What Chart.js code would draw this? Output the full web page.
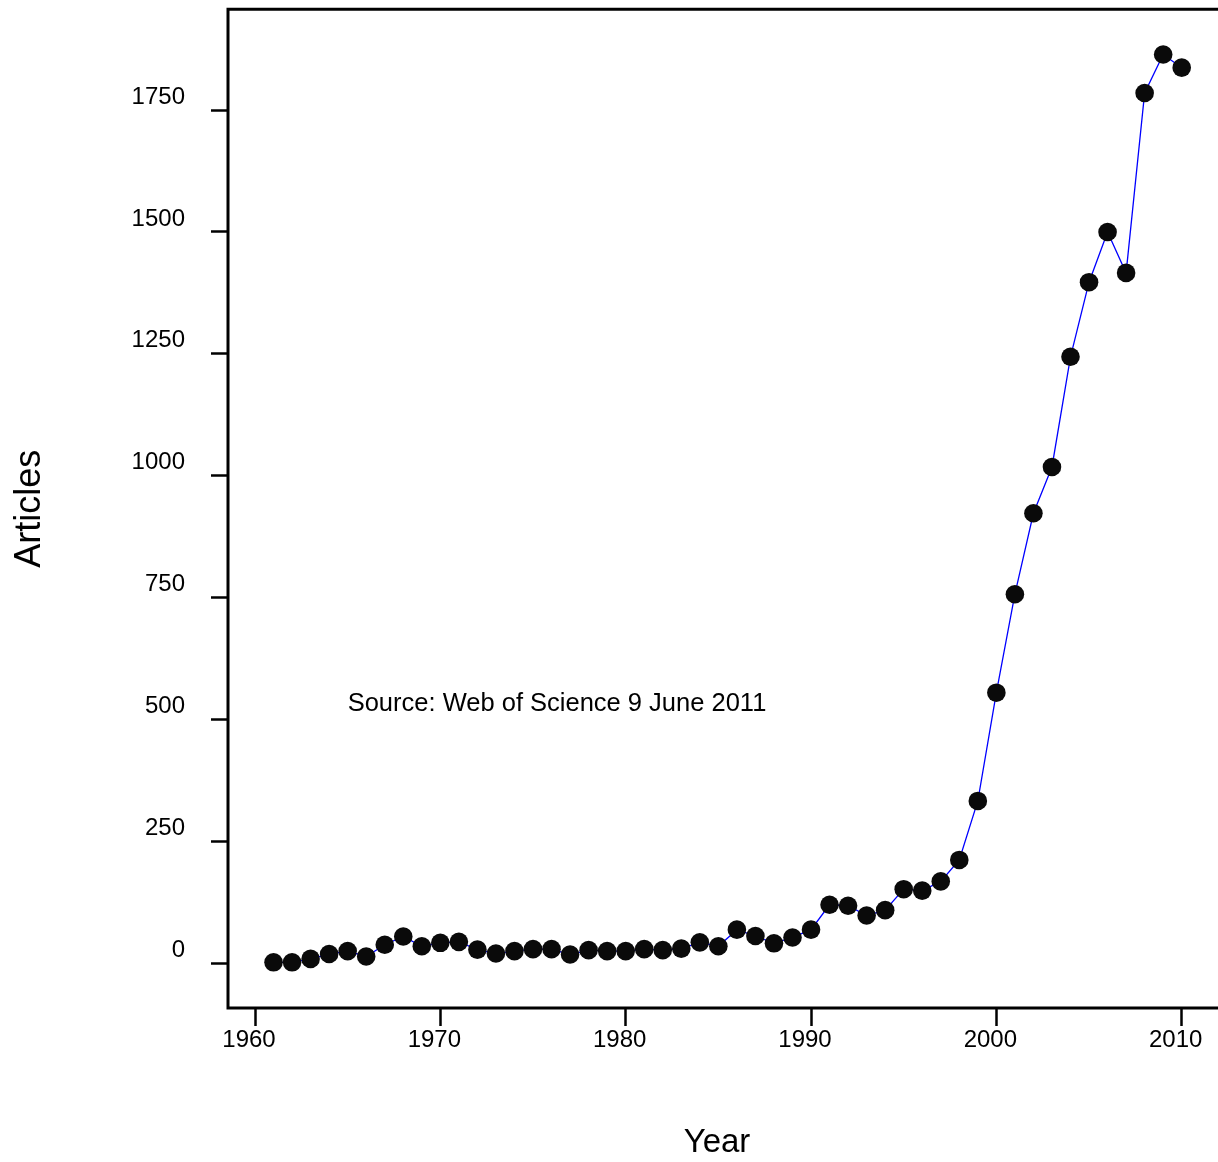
<!DOCTYPE html>
<html>
<head>
<meta charset="utf-8">
<script src="https://cdn.jsdelivr.net/npm/chart.js@4.4.1/dist/chart.umd.min.js"></script>
<style>
  body { margin: 0; background: #fff; overflow: hidden; }
</style>
</head>
<body>
<canvas id="articlesChart" width="1218" height="1162"></canvas>
<script>
// articles per year
const years = [1961, 1962, 1963, 1964, 1965, 1966, 1967, 1968, 1969, 1970,
               1971, 1972, 1973, 1974, 1975, 1976, 1977, 1978, 1979, 1980,
               1981, 1982, 1983, 1984, 1985, 1986, 1987, 1988, 1989, 1990,
               1991, 1992, 1993, 1994, 1995, 1996, 1997, 1998, 1999, 2000,
               2001, 2002, 2003, 2004, 2005, 2006, 2007, 2008, 2009, 2010];
const articles = [2, 2, 9, 19, 25, 14, 38, 55, 35, 42,
                  44, 28, 20, 25, 29, 29, 18, 27, 25, 25,
                  29, 27, 30, 43, 35, 69, 56, 41, 53, 69,
                  120, 118, 98, 109, 152, 149, 168, 212, 333, 555,
                  757, 923, 1018, 1244, 1397, 1500, 1416, 1785, 1864, 1837];
const xTicks = [1960, 1970, 1980, 1990, 2000, 2010];
const yTicks = [0, 250, 500, 750, 1000, 1250, 1500, 1750];
const sourceNote = 'Source: Web of Science 9 June 2011';

const fontFamily = '"Liberation Sans", Arial, Helvetica, sans-serif';

// frame: left, top and bottom edges (right edge is off the picture)
const framePlugin = {
    id: 'frame',
    beforeDatasetsDraw(chart) {
        const { ctx, chartArea } = chart;
        ctx.save();
        ctx.strokeStyle = '#000';
        ctx.lineWidth = 3;
        ctx.lineCap = 'square';
        ctx.beginPath();
        ctx.moveTo(chart.width + 5, chartArea.top);
        ctx.lineTo(chartArea.left, chartArea.top);
        ctx.lineTo(chartArea.left, chartArea.bottom);
        ctx.lineTo(chart.width + 5, chartArea.bottom);
        ctx.stroke();
        ctx.restore();
    }
};

// note placed in data coordinates
const notePlugin = {
    id: 'note',
    afterDatasetsDraw(chart) {
        const { ctx, scales } = chart;
        ctx.save();
        ctx.fillStyle = '#000';
        ctx.font = '25.5px ' + fontFamily;
        ctx.textAlign = 'left';
        ctx.textBaseline = 'middle';
        ctx.fillText(sourceNote, scales.x.getPixelForValue(1965), scales.y.getPixelForValue(532));
        ctx.restore();
    }
};

const ctx = document.getElementById('articlesChart').getContext('2d');
const articlesChart = new Chart(ctx, {
    type: 'line',
    data: {
        datasets: [{
            label: 'Articles',
            data: years.map((y, i) => ({ x: y, y: articles[i] })),
            borderColor: '#0000ff',
            borderWidth: 1.3,
            fill: false,
            pointBackgroundColor: '#0a0a0a',
            pointBorderWidth: 0,
            pointRadius: 9.3,
            tension: 0
        }]
    },
    options: {
        responsive: false,
        animation: false,
        devicePixelRatio: 1,
        layout: { padding: { top: 9, left: 0, right: 12, bottom: 0 } },
        plugins: {
            legend: { display: false },
            tooltip: { enabled: false }
        },
        scales: {
            x: {
                type: 'linear',
                min: 1958.543,
                max: 2011.311,
                afterBuildTicks: (scale) => { scale.ticks = xTicks.map(v => ({ value: v })); },
                afterFit: (scale) => {
                    scale.height = 154;
                    scale.paddingLeft = 0;
                    scale.paddingRight = 0;
                },
                border: { display: false },
                grid: {
                    drawOnChartArea: false,
                    drawTicks: true,
                    tickLength: 18,
                    tickColor: '#000',
                    tickWidth: 2.5
                },
                ticks: {
                    autoSkip: false,
                    maxRotation: 0,
                    padding: 0,
                    labelOffset: -6,
                    color: '#000',
                    font: { family: fontFamily, size: 24 },
                    callback: (v) => String(v)
                },
                title: {
                    display: true,
                    text: 'Year',
                    color: '#000',
                    font: { family: fontFamily, size: 33 },
                    padding: { top: 0, bottom: -1 }
                }
            },
            y: {
                type: 'linear',
                min: -91.7,
                max: 1956.7,
                afterBuildTicks: (scale) => { scale.ticks = yTicks.map(v => ({ value: v })); },
                afterFit: (scale) => {
                    scale.width = 228;
                    scale.paddingTop = 0;
                    scale.paddingBottom = 0;
                },
                border: { display: false },
                grid: {
                    drawOnChartArea: false,
                    drawTicks: true,
                    tickLength: 17,
                    tickColor: '#000',
                    tickWidth: 2.5
                },
                ticks: {
                    autoSkip: false,
                    padding: 26,
                    labelOffset: -13,
                    color: '#000',
                    font: { family: fontFamily, size: 24 },
                    callback: (v) => String(v)
                },
                title: {
                    display: true,
                    text: 'Articles',
                    color: '#000',
                    font: { family: fontFamily, size: 36 },
                    padding: { top: 8, bottom: 0 }
                }
            }
        }
    },
    plugins: [framePlugin, notePlugin]
});
</script>
</body>
</html>
